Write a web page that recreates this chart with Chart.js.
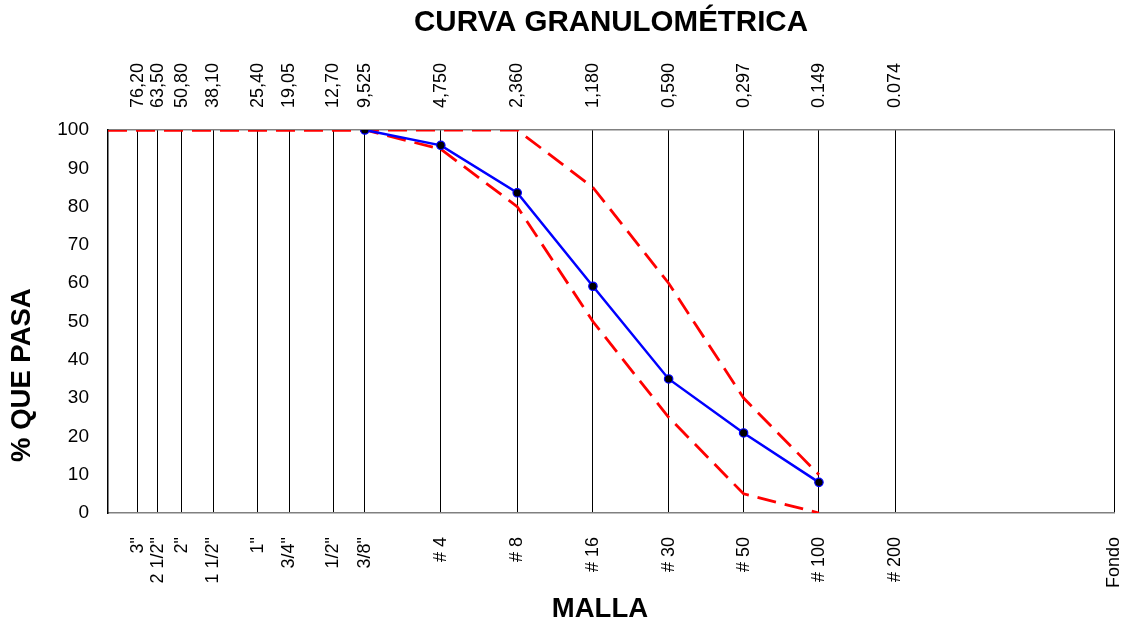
<!DOCTYPE html>
<html>
<head>
<meta charset="utf-8">
<script src="https://cdn.jsdelivr.net/npm/chart.js@4/dist/chart.umd.min.js"></script>
<style>
  html, body { margin: 0; padding: 0; background: #ffffff; }
  #wrap { width: 1132px; height: 626px; }
</style>
</head>
<body>
<div id="wrap"><canvas id="c" width="1132" height="626"></canvas></div>
<script>
// Sieve openings (mm) and names
const sieveSizes = [76.2, 63.5, 50.8, 38.1, 25.4, 19.05, 12.7, 9.525, 4.75, 2.36, 1.18, 0.59, 0.297, 0.149, 0.074, 0.01];
const sieveNames = ['3"', '2 1/2"', '2"', '1 1/2"', '1"', '3/4"', '1/2"', '3/8"', '# 4', '# 8', '# 16', '# 30', '# 50', '# 100', '# 200', 'Fondo'];
const sizeLabels = ['76,20', '63,50', '50,80', '38,10', '25,40', '19,05', '12,70', '9,525', '4,750', '2,360', '1,180', '0,590', '0,297', '0.149', '0.074', ''];

// Sample curve (% passing)
const sampleSizes = [9.525, 4.75, 2.36, 1.18, 0.59, 0.297, 0.149];
const samplePass = [100, 96, 83.6, 59.2, 35, 20.9, 8];

// Upper limit
const upperSizes = [100, 2.36, 1.18, 0.59, 0.297, 0.149];
const upperPass = [100, 100, 85, 60, 30, 10];

// Lower limit
const lowerSizes = [100, 9.525, 4.75, 2.36, 1.18, 0.59, 0.297, 0.149];
const lowerPass = [100, 100, 95, 80, 50, 25, 5, 0];

// Axis range
const xMin = 0.01, xMax = 100;
const yTicks = [0, 10, 20, 30, 40, 50, 60, 70, 80, 90, 100];

const FONT = "'Liberation Sans', Arial, Helvetica, sans-serif";
const toPts = (xs, ys) => xs.map((x, i) => ({ x: x, y: ys[i] }));

const axisTitlePlugin = {
  id: 'axisTitles',
  afterDraw(chart) {
    const ctx = chart.ctx;
    const a = chart.chartArea;
    ctx.save();
    ctx.font = "bold 27.5px " + FONT;
    ctx.fillStyle = '#000';
    ctx.textAlign = 'center';
    ctx.textBaseline = 'middle';
    // x-axis title
    ctx.fillText('MALLA', a.left + (a.right - a.left) * 0.489, 609);
    // y-axis title
    ctx.translate(22.5, a.top + (a.bottom - a.top) * 0.64);
    ctx.rotate(-Math.PI / 2);
    ctx.fillText('% QUE PASA', 0, 0);
    ctx.restore();
  }
};

new Chart(document.getElementById('c'), {
  type: 'line',
  data: {
    datasets: [
      {
        label: 'Muestra',
        data: toPts(sampleSizes, samplePass),
        borderColor: '#0000FF',
        borderWidth: 2.5,
        pointRadius: 4.2,
        pointBackgroundColor: '#000000',
        pointBorderColor: '#0000FF',
        pointBorderWidth: 1.2,
        tension: 0,
        xAxisID: 'x', yAxisID: 'y'
      },
      {
        label: 'Límite superior',
        data: toPts(upperSizes, upperPass),
        borderColor: '#FF0000',
        borderWidth: 2.8,
        borderDash: [19, 9],
        pointRadius: 0,
        tension: 0,
        xAxisID: 'x', yAxisID: 'y'
      },
      {
        label: 'Límite inferior',
        data: toPts(lowerSizes, lowerPass),
        borderColor: '#FF0000',
        borderWidth: 2.8,
        borderDash: [19, 9],
        pointRadius: 0,
        tension: 0,
        xAxisID: 'x', yAxisID: 'y'
      }
    ]
  },
  options: {
    responsive: false,
    animation: false,
    devicePixelRatio: 1,
    layout: { padding: { left: 0, top: 0, bottom: 0, right: 18 } },
    plugins: {
      legend: { display: false },
      tooltip: { enabled: false },
      title: {
        display: true,
        text: 'CURVA GRANULOMÉTRICA',
        color: '#000',
        fullSize: false,
        font: { family: FONT, size: 29.5, weight: 'bold', lineHeight: 1.2 },
        padding: { top: 5, bottom: 0 }
      }
    },
    scales: {
      x: {
        type: 'logarithmic',
        position: 'bottom',
        reverse: true,
        min: xMin,
        max: xMax,
        afterBuildTicks: (s) => { s.ticks = sieveSizes.map(v => ({ value: v })); },
        afterFit: (s) => { s.height = 113; s.paddingLeft = 0; s.paddingRight = 0; },
        ticks: {
          autoSkip: false,
          minRotation: 90,
          maxRotation: 90,
          padding: 24,
          color: '#000',
          font: { family: FONT, size: 18 },
          callback: (v, i) => sieveNames[i]
        },
        grid: { display: true, color: '#000', lineWidth: 1, drawTicks: false, drawOnChartArea: true },
        border: { display: true, color: '#808080', width: 1.5 }
      },
      x2: {
        type: 'logarithmic',
        position: 'top',
        reverse: true,
        min: xMin,
        max: xMax,
        afterBuildTicks: (s) => { s.ticks = sieveSizes.map(v => ({ value: v })); },
        afterFit: (s) => { s.height = 130 - 40.4; s.paddingLeft = 0; s.paddingRight = 0; },
        ticks: {
          autoSkip: false,
          minRotation: 90,
          maxRotation: 90,
          padding: 22,
          labelOffset: 21.6,
          color: '#000',
          font: { family: FONT, size: 18 },
          callback: (v, i) => sizeLabels[i]
        },
        grid: { display: false, drawTicks: false },
        border: { display: true, color: '#808080', width: 1.5 }
      },
      y: {
        type: 'linear',
        position: 'left',
        min: 0,
        max: 100,
        afterBuildTicks: (s) => { s.ticks = yTicks.map(v => ({ value: v })); },
        afterFit: (s) => { s.width = 108; },
        ticks: {
          padding: 19,
          color: '#000',
          font: { family: FONT, size: 19 },
          callback: (v) => String(v)
        },
        grid: { display: false, drawTicks: false },
        border: { display: true, color: '#000', width: 1.5 }
      }
    }
  },
  plugins: [axisTitlePlugin]
});
</script>
</body>
</html>
